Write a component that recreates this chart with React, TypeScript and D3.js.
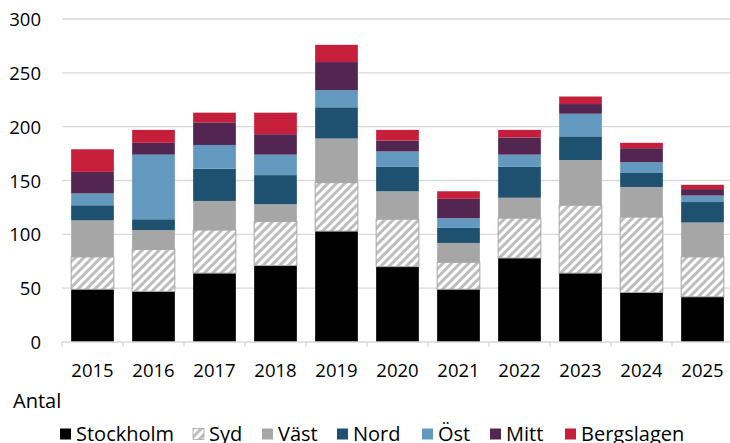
import React from "react";
import * as d3 from "d3";

// Data
const years = ["2015", "2016", "2017", "2018", "2019", "2020", "2021", "2022", "2023", "2024", "2025"];
const stockholm = [49, 47, 64, 71, 103, 70, 49, 78, 64, 46, 42];
const syd = [30, 39, 40, 41, 45, 44, 25, 37, 63, 70, 37];
const vast = [34, 18, 27, 16, 41, 26, 18, 19, 42, 28, 32];
const nord = [14, 10, 30, 27, 29, 23, 14, 29, 22, 13, 19];
const ost = [11, 60, 22, 19, 16, 14, 9, 11, 21, 10, 6];
const mitt = [20, 11, 21, 19, 26, 10, 18, 16, 9, 13, 6];
const bergslagen = [21, 12, 9, 20, 16, 10, 7, 7, 7, 5, 4];
const yTicks = [0, 50, 100, 150, 200, 250, 300];

const series = [
  { key: "Stockholm", values: stockholm, fill: "#000000" },
  { key: "Syd", values: syd, fill: "url(#sydHatch)" },
  { key: "Väst", values: vast, fill: "#a6a6a6" },
  { key: "Nord", values: nord, fill: "#1e5170" },
  { key: "Öst", values: ost, fill: "#6399bf" },
  { key: "Mitt", values: mitt, fill: "#522651" },
  { key: "Bergslagen", values: bergslagen, fill: "#c61f3b" },
];

// legend square positions
const legendX = [60, 193, 262, 337, 422, 490, 565];

const App = () => {
  // Dimensions
  const width = 730;
  const height = 443;
  const left = 62;
  const right = 733;
  const top = 19;
  const bottom = 342;

  const rows = years.map((y, i) => {
    const row: any = { year: y };
    series.forEach((s) => (row[s.key] = s.values[i]));
    return row;
  });
  const stacked = d3.stack().keys(series.map((s) => s.key))(rows);

  const xScale = d3.scaleBand().domain(years).range([left, right]).paddingInner(0.3).paddingOuter(0.15);
  const yScale = d3.scaleLinear().domain([0, 300]).range([bottom, top]);
  const step = xScale.step();
  const font = "'Open Sans', 'Noto Sans', sans-serif";

  return (
    <svg width={width} height={height} style={{ position: "absolute", left: 0, top: 0 }} fontFamily={font}>
      <defs>
        <pattern id="sydHatch" width="6" height="6" patternUnits="userSpaceOnUse" patternTransform="rotate(45)">
          <rect width="6" height="6" fill="#ffffff" />
          <line x1="1.5" y1="0" x2="1.5" y2="6" stroke="#bdbdbd" strokeWidth="3" />
        </pattern>
      </defs>

      {/* grid */}
      {yTicks.map((t) => (
        <g key={t}>
          {t > 0 && <line x1={left} x2={width} y1={yScale(t)} y2={yScale(t)} stroke="#d9d9d9" strokeWidth={1.3} />}
          <text x={41} y={yScale(t) + 7} textAnchor="end" fontSize={18.5} fill="#000">
            {t}
          </text>
        </g>
      ))}

      {/* bars */}
      {stacked.map((layer, li) => (
        <g key={layer.key}>
          {layer.map((d, i) => (
            <rect
              key={i}
              x={xScale(years[i])}
              y={yScale(d[1])}
              width={xScale.bandwidth()}
              height={yScale(d[0]) - yScale(d[1])}
              fill={series[li].fill}
              stroke={li === 1 ? "#a6a6a6" : "none"}
              strokeWidth={li === 1 ? 1 : 0}
            />
          ))}
        </g>
      ))}

      {/* x axis */}
      <line x1={left} x2={width} y1={bottom} y2={bottom} stroke="#d9d9d9" strokeWidth={1.3} />
      {d3.range(years.length + 1).map((i) => (
        <line key={i} x1={left + i * step} x2={left + i * step} y1={bottom} y2={bottom + 5} stroke="#d9d9d9" strokeWidth={1.3} />
      ))}
      {years.map((y) => (
        <text key={y} x={(xScale(y) as number) + xScale.bandwidth() / 2} y={377} textAnchor="middle" fontSize={18.5} fill="#000">
          {y}
        </text>
      ))}

      <text x={13} y={407.5} fontSize={20} fill="#000">
        Antal
      </text>

      {/* legend */}
      {series.map((s, i) => (
        <g key={s.key}>
          <rect
            x={legendX[i]}
            y={428.5}
            width={11}
            height={11}
            fill={s.fill}
            stroke={i === 1 ? "#a6a6a6" : "none"}
            strokeWidth={i === 1 ? 0.8 : 0}
          />
          <text x={legendX[i] + 16} y={441} fontSize={20} fill="#000">
            {s.key}
          </text>
        </g>
      ))}
    </svg>
  );
};

export default App;
